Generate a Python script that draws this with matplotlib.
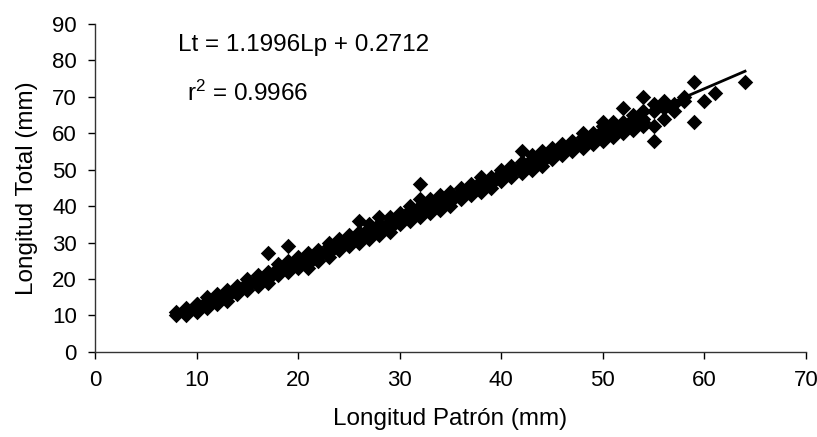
import matplotlib
matplotlib.use("Agg")
import matplotlib.pyplot as plt
import numpy as np

plt.rcParams['font.family'] = ['Liberation Sans', 'DejaVu Sans']
plt.rcParams['mathtext.fontset'] = 'custom'
plt.rcParams['mathtext.rm'] = 'Liberation Sans'
plt.rcParams['mathtext.it'] = 'Liberation Sans'
plt.rcParams['mathtext.default'] = 'rm'

# Longitud Patrón (mm) values, grouped by integer length
lp_groups = [8, 9, 10, 11, 12, 13, 14, 15, 16, 17, 18, 19, 20, 21, 22, 23, 24, 25,
             26, 27, 28, 29, 30, 31, 32, 33, 34, 35, 36, 37, 38, 39, 40, 41, 42, 43,
             44, 45, 46, 47, 48, 49, 50, 51, 52, 53, 54, 55, 56, 57, 58, 59, 60, 61, 64]
# Longitud Total (mm) values observed at each Lp
lt_groups = [
    [10, 11], [10, 11, 12, 11], [11, 12, 13, 12, 13], [12, 13, 14, 15, 13],
    [14, 15, 16, 13, 15], [14, 15, 16, 17, 16], [16, 17, 18, 17], [17, 18, 19, 18, 20],
    [18, 19, 20, 21, 19], [19, 20, 21, 22, 27], [21, 22, 23, 22, 24], [22, 23, 24, 29, 25],
    [23, 24, 25, 24, 26], [24, 25, 26, 27, 23], [25, 26, 27, 28, 27], [26, 27, 28, 29, 30],
    [28, 29, 30, 31, 29], [29, 30, 31, 32, 30], [30, 31, 32, 33, 36], [31, 32, 33, 34, 35],
    [32, 33, 34, 35, 37], [33, 34, 35, 36, 37], [35, 36, 37, 38, 36], [36, 37, 38, 39, 40],
    [37, 38, 39, 40, 46, 42], [38, 39, 40, 41, 42], [39, 40, 41, 42, 43], [41, 42, 43, 44, 40],
    [42, 43, 44, 45], [43, 44, 45, 46], [44, 45, 46, 47, 48], [45, 46, 47, 48],
    [47, 48, 49, 50], [48, 49, 50, 51], [49, 50, 51, 52, 55], [50, 51, 52, 53, 54],
    [51, 52, 53, 54, 55], [53, 54, 55, 56], [54, 55, 56, 57], [55, 56, 57, 58],
    [56, 57, 58, 59, 60], [57, 58, 59, 60], [58, 59, 60, 61, 62, 63], [59, 60, 61, 62, 63],
    [60, 61, 62, 63, 67], [61, 62, 64, 65], [62, 63, 64, 66, 70], [58, 62, 66, 68],
    [64, 67, 69], [66, 68], [69, 70], [63, 74], [69], [71], [74],
]

slope = 1.1996
intercept = 0.2712
r2 = 0.9966

x_ticks = [0, 10, 20, 30, 40, 50, 60, 70]
y_ticks = [0, 10, 20, 30, 40, 50, 60, 70, 80, 90]

lp = []
lt = []
for p, vals in zip(lp_groups, lt_groups):
    for v in vals:
        lp.append(p)
        lt.append(v)
lp = np.array(lp, dtype=float)
lt = np.array(lt, dtype=float)

fig = plt.figure(figsize=(8.17, 4.37), dpi=100)
ax = fig.add_axes([0.1163, 0.195, 0.8702, 0.750])

ax.scatter(lp, lt, marker='D', s=62, color='black', linewidths=0, zorder=2)
xl = np.array([lp.min(), lp.max()])
ax.plot(xl, slope * xl + intercept, color='black', lw=2, zorder=3)

ax.set_xlim(0, 70)
ax.set_ylim(0, 90)
ax.set_xticks(x_ticks)
ax.set_yticks(y_ticks)
ax.tick_params(direction='out', length=5, width=1, labelsize=16, colors='black', pad=8)
for s in ['top', 'right']:
    ax.spines[s].set_visible(False)
for s in ['left', 'bottom']:
    ax.spines[s].set_linewidth(1)
    ax.spines[s].set_color('#333333')

ax.set_xlabel('Longitud Patrón (mm)', fontsize=17.5, labelpad=12)
ax.set_ylabel('Longitud Total (mm)', fontsize=17.5, labelpad=10)

ax.text(0.117, 0.935, f'Lt = {slope}Lp + {intercept}', transform=ax.transAxes,
        fontsize=17.5, va='center', ha='left')
ax.text(0.129, 0.79, f'r$^2$ = {r2}', transform=ax.transAxes,
        fontsize=17.5, va='center', ha='left')

fig.savefig('out.png', dpi=100)
